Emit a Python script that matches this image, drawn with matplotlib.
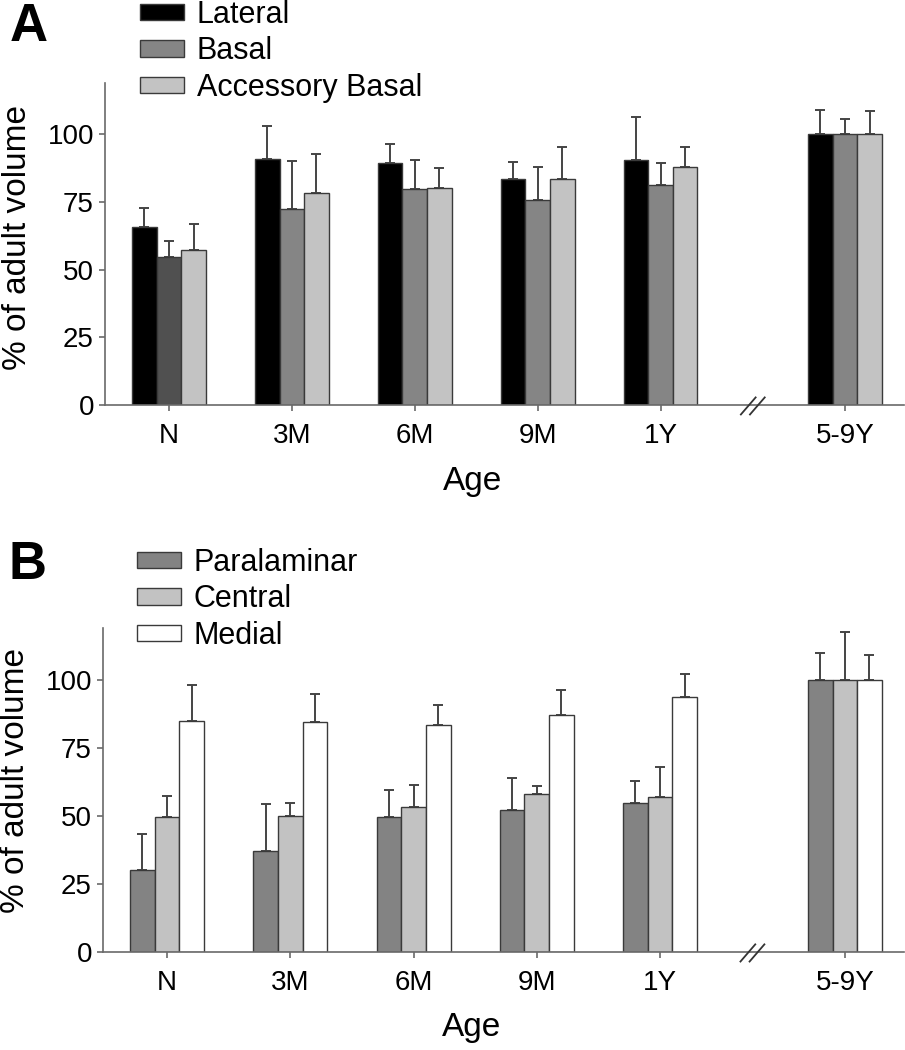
import matplotlib
matplotlib.use("Agg")
import matplotlib.pyplot as plt
from matplotlib.patches import Patch

plt.rcParams['font.family'] = ['Liberation Sans', 'DejaVu Sans']

ages = ["N", "3M", "6M", "9M", "1Y", "5-9Y"]
age_pos = [0, 1, 2, 3, 4, 5.5]
break_pos = 4.75

# Panel A: lateral / basal / accessory basal nuclei
lateral = [65.8, 90.8, 89.4, 83.6, 90.4, 100]
lateral_err = [7.0, 12.3, 7.0, 6.3, 16.0, 9.2]
basal = [54.6, 72.3, 79.7, 75.6, 81.4, 100]
basal_err = [5.9, 17.7, 11.0, 12.3, 8.0, 5.6]
acc_basal = [57.4, 78.5, 80.3, 83.4, 88.1, 100]
acc_basal_err = [9.4, 14.1, 7.3, 12.1, 7.1, 8.6]

# Panel B: paralaminar / central / medial nuclei
paralaminar = [30.0, 37.0, 49.4, 52.3, 54.8, 100]
paralaminar_err = [13.5, 17.3, 10.2, 11.6, 8.1, 10.0]
central = [49.6, 49.9, 53.2, 57.9, 56.9, 100]
central_err = [7.8, 4.9, 8.0, 2.9, 11.2, 17.5]
medial = [84.8, 84.4, 83.5, 87.0, 93.8, 100]
medial_err = [13.4, 10.3, 7.2, 9.1, 8.3, 9.2]

labels_a = ["Lateral", "Basal", "Accessory Basal"]
labels_b = ["Paralaminar", "Central", "Medial"]

BAR_W = 0.2
EDGE = "#3a3a3a"
AXIS_C = "#6a6a6a"


def draw_panel(ax, series, errors, colors):
    for i, (vals, errs, col) in enumerate(zip(series, errors, colors)):
        xs = [p + (i - 1) * BAR_W for p in age_pos]
        ax.bar(xs, vals, width=BAR_W, color=col, edgecolor=EDGE, linewidth=1.0,
               zorder=2)
        ax.errorbar(xs, vals, yerr=[[0] * len(errs), errs], fmt="none",
                    ecolor="#444444", elinewidth=1.4, capsize=3.8, capthick=1.4,
                    zorder=1)

    ax.set_xlim(-0.52, 5.98)
    ax.set_ylim(0, 119)
    ax.set_yticks([0, 25, 50, 75, 100])
    ax.set_xticks(age_pos)
    ax.set_xticklabels(ages)
    for s in ("top", "right"):
        ax.spines[s].set_visible(False)
    for s in ("left", "bottom"):
        ax.spines[s].set_color(AXIS_C)
        ax.spines[s].set_linewidth(1.2)
    ax.tick_params(axis="both", colors=AXIS_C, labelcolor="black",
                   labelsize=20, length=4, width=1.2)
    ax.tick_params(axis="x", pad=9)
    ax.tick_params(axis="y", pad=4)

    # axis break marks
    for dx in (-0.037, 0.037):
        ax.plot([break_pos + dx - 0.06, break_pos + dx + 0.06], [-3.5, 2.8],
                color="#333333", lw=1.3, clip_on=False, zorder=5)

    ax.set_ylabel("% of adult volume", fontsize=24)
    ax.set_xlabel("Age", fontsize=24)


fig = plt.figure(figsize=(9.05, 10.5), dpi=100)
axA = fig.add_axes([105 / 905, 1 - 405 / 1050, 799 / 905, 322 / 1050])
axB = fig.add_axes([103 / 905, 1 - 952 / 1050, 801 / 905, 324 / 1050])

cols_a = ["#000000", ["#505050"] + ["#858585"] * 5, "#c3c3c3"]
draw_panel(axA, [lateral, basal, acc_basal],
           [lateral_err, basal_err, acc_basal_err], cols_a)
cols_b = ["#838383", "#c2c2c2", "#ffffff"]
draw_panel(axB, [paralaminar, central, medial],
           [paralaminar_err, central_err, medial_err], cols_b)

axA.yaxis.set_label_coords(-0.09, 0.52)
axB.yaxis.set_label_coords(-0.09, 0.53)
axA.xaxis.set_label_coords(0.46, -0.19)
axB.xaxis.set_label_coords(0.46, -0.185)


def add_legend(labels, colors, x, y):
    handles = [Patch(facecolor=c, edgecolor=EDGE, linewidth=1.0) for c in colors]
    fig.legend(handles, labels, loc="upper left", bbox_to_anchor=(x, y),
               bbox_transform=fig.transFigure, frameon=False, fontsize=22,
               handlelength=1.45, handleheight=0.45, handletextpad=0.4,
               labelspacing=0.21, borderpad=0, borderaxespad=0)


add_legend(labels_a, ["#000000", "#858585", "#c3c3c3"], 140 / 905, 1 + 0 / 1050)
add_legend(labels_b, cols_b, 137 / 905, 1 - 548 / 1050)

fig.text(10 / 905, 1 - 2 / 1050, "A", ha="left", va="top", fontsize=38,
         fontweight="bold")
fig.text(8 / 905, 1 - 540 / 1050, "B", ha="left", va="top", fontsize=38,
         fontweight="bold")

fig.savefig("out.png", dpi=100)
